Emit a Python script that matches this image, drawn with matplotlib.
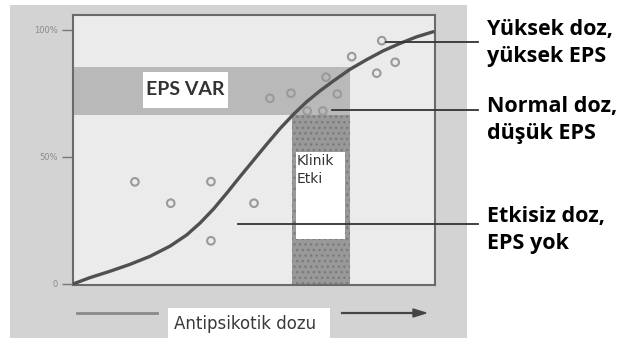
import matplotlib.pyplot as plt
from matplotlib.patches import Rectangle

# data (x = dose on 0-100 scale, y = % of patients)
curve_x = [0, 4.7, 10.2, 15.7, 21.3, 26.8, 31.4, 35.1, 38.8, 42.5, 46.1, 49.8, 53.5, 57.2,
           60.9, 64.6, 68.2, 72.0, 76.5, 81.1, 85.7, 90.3, 94.9, 99.5]
curve_y = [0, 2.5, 5.0, 7.7, 10.9, 14.9, 19.3, 24.0, 29.5, 35.8, 42.2, 48.6, 55.0, 61.2,
           66.8, 71.8, 76.0, 80.0, 84.5, 88.3, 91.8, 94.7, 97.3, 99.3]

pts_x = [17.1, 27.0, 38.1, 38.1, 50.0, 54.4, 60.2, 64.7, 69.0, 69.9, 73.0, 77.0, 83.9, 85.3, 89.0]
pts_y = [40.2, 31.8, 40.3, 17.0, 31.8, 73.1, 75.1, 68.1, 68.1, 81.4, 74.8, 89.5, 83.0, 95.8, 87.3]

yticks = [0, 50, 100]
ytick_labels = ['0', '50%', '100%']

eps_band = (0, 76.5, 66.5, 85.4)        # x0, x1, y0, y1
clinic_band = (60.5, 76.5, 0, 66.5)
clinic_box = (61.6, 75.1, 17.7, 52.0)
eps_box = (19.3, 42.8, 69.3, 83.5)

labels = [['Yüksek doz,', 'yüksek EPS'], ['Normal doz,', 'düşük EPS'], ['Etkisiz doz,', 'EPS yok']]
label_targets = [(86.5, 95.8), (71.5, 68.1), (45.5, 22.8)]

W, H = 637, 342
fig = plt.figure(figsize=(W / 100, H / 100), dpi=100)
fig.patch.set_facecolor('white')


def fx(px):
    return px / W


def fy(py):
    return 1 - py / H


# scanned grey background
fig.add_artist(Rectangle((fx(10), fy(338)), fx(467) - fx(10), fy(5) - fy(338),
                         transform=fig.transFigure, facecolor='#d3d3d3', edgecolor='none', zorder=0))

ax = fig.add_axes([fx(73), fy(285), (435 - 73) / W, (285 - 15) / H])
ax.set_facecolor('#ebebeb')
ax.set_xlim(0, 100)
ax.set_ylim(-0.4, 105.9)

x0, x1, y0, y1 = eps_band
ax.add_patch(Rectangle((x0, y0), x1 - x0, y1 - y0, facecolor='#b9b9b9', edgecolor='none', zorder=1))
x0, x1, y0, y1 = clinic_band
ax.add_patch(Rectangle((x0, y0), x1 - x0, y1 - y0, facecolor='#999999', edgecolor='#7a7a7a',
                       hatch='...', linewidth=0, zorder=1))
x0, x1, y0, y1 = clinic_box
ax.add_patch(Rectangle((x0, y0), x1 - x0, y1 - y0, facecolor='white', edgecolor='none', zorder=2))
ax.text(x0 + 0.3, y1 - 1.0, 'Klinik\nEtki', fontsize=10, color='#333333', va='top', ha='left',
        linespacing=1.35, zorder=3)
x0, x1, y0, y1 = eps_box
ax.add_patch(Rectangle((x0, y0), x1 - x0, y1 - y0, facecolor='white', edgecolor='none', zorder=2))
ax.text((x0 + x1) / 2, (y0 + y1) / 2, 'EPS VAR', fontsize=14, fontweight='bold', color='#333333',
        ha='center', va='center', family='Lato', zorder=3)

ax.plot(curve_x, curve_y, color='#505050', linewidth=2.4, zorder=4,
        solid_capstyle='round', solid_joinstyle='round')
ax.scatter(pts_x, pts_y, s=30, facecolors='none', edgecolors='#9a9a9a', linewidths=1.5, zorder=5)

ax.set_xticks([])
ax.set_yticks(yticks)
ax.set_yticklabels(ytick_labels, fontsize=6, color='#8a8a8a')
ax.tick_params(axis='y', length=8, width=1, color='#777777', pad=3)
for s in ax.spines.values():
    s.set_color('#6a6a6a')
    s.set_linewidth(1.5)

# leader lines and labels on the right
label_y = [42, 110, 224]
label_base = [35, 112, 222]
for lines, (tx, ty), ly, base in zip(labels, label_targets, label_y, label_base):
    sx = 73 + tx * 3.62
    fig.add_artist(plt.Line2D([fx(sx), fx(478)], [fy(ly), fy(ly)], transform=fig.transFigure,
                              color='#333333', linewidth=1.3, zorder=6))
    for i, line in enumerate(lines):
        fig.text(fx(487), fy(base + 27 * i), line, fontsize=15.5, fontweight='bold', color='black',
                 ha='left', va='baseline', family='Open Sans')

# dose arrow at the bottom
fig.add_artist(plt.Line2D([fx(77), fx(157)], [fy(313), fy(313)], transform=fig.transFigure,
                          color='#8a8a8a', linewidth=2))
fig.add_artist(Rectangle((fx(168), fy(338)), fx(330) - fx(168), fy(308) - fy(338),
                         transform=fig.transFigure, facecolor='white', edgecolor='none'))
fig.text(fx(245), fy(324), 'Antipsikotik dozu', fontsize=12, color='#3a3a3a', ha='center', va='center')
fig.add_artist(plt.Line2D([fx(342), fx(415)], [fy(313), fy(313)], transform=fig.transFigure,
                          color='#444444', linewidth=1.6))
fig.patches.append(plt.Polygon([[fx(413), fy(309)], [fx(426), fy(313)], [fx(413), fy(317)]],
                               closed=True, transform=fig.transFigure, color='#444444'))

fig.savefig('out.png', dpi=100)
